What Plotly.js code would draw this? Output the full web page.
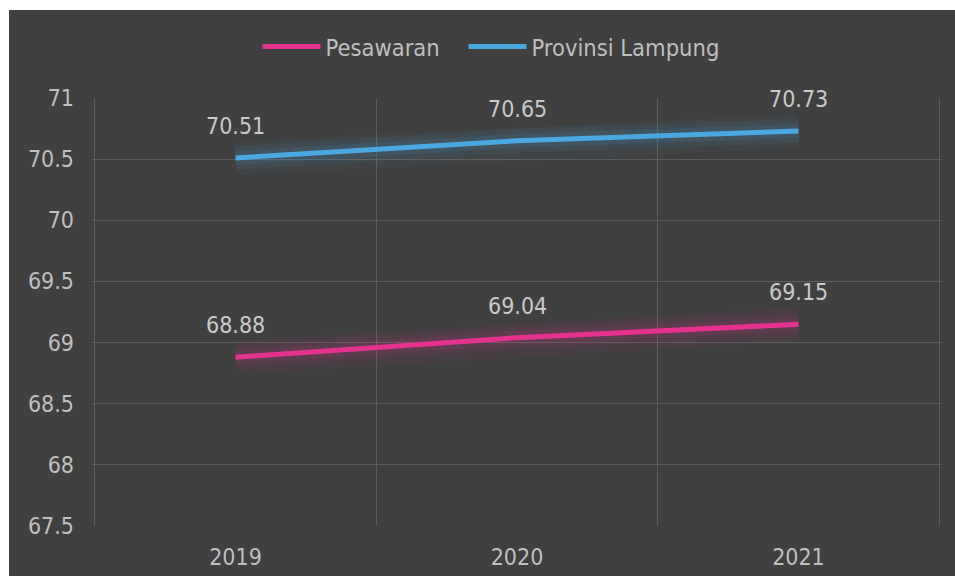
<!DOCTYPE html>
<html>
<head>
<meta charset="utf-8">
<script src="https://cdn.plot.ly/plotly-3.0.1.min.js"></script>
<style>
  html, body { margin: 0; padding: 0; background: #ffffff; }
  #chart { position: absolute; left: 9px; top: 10px; width: 946px; height: 566px; }
</style>
</head>
<body>
<div id="chart"></div>
<script>
const years = ['2019', '2020', '2021'];
const pesawaran = [68.88, 69.04, 69.15];
const lampung = [70.51, 70.65, 70.73];
const seriesNames = ['Pesawaran', 'Provinsi Lampung'];
const yTicks = [67.5, 68, 68.5, 69, 69.5, 70, 70.5, 71];

const idx = years.map(function (_, i) { return i; });
const FONT = '"DejaVu Sans Condensed", "DejaVu Sans", sans-serif';
const PINK = '#e5318f';
const BLUE = '#4aa8e0';

function glow(y, rgb, w, a) {
  return { x: idx, y: y, type: 'scatter', mode: 'lines', showlegend: false, hoverinfo: 'skip',
    line: { color: 'rgba(' + rgb + ',' + a + ')', width: w } };
}

const traces = [
  glow(pesawaran, '229,49,143', 34, 0.045),
  glow(pesawaran, '229,49,143', 24, 0.065),
  glow(pesawaran, '229,49,143', 14, 0.1),
  glow(lampung, '74,168,224', 34, 0.045),
  glow(lampung, '74,168,224', 24, 0.065),
  glow(lampung, '74,168,224', 14, 0.1),
  { x: idx, y: pesawaran, name: seriesNames[0], type: 'scatter', mode: 'lines', legend: 'legend',
    line: { color: PINK, width: 5 } },
  { x: idx, y: lampung, name: seriesNames[1], type: 'scatter', mode: 'lines', legend: 'legend2',
    line: { color: BLUE, width: 5 } }
];

const annotations = [];
[pesawaran, lampung].forEach(function (s) {
  s.forEach(function (v, i) {
    annotations.push({ x: idx[i], y: v, xref: 'x', yref: 'y', text: v.toFixed(2),
      showarrow: false, yshift: 32, font: { family: FONT, size: 23, color: '#c9c9c9' } });
  });
});

// plot area spans page x 92..942
function legendStyle(pageX) {
  return { orientation: 'h', x: (pageX - 92) / 850, xanchor: 'left', y: 1.12, yanchor: 'middle', itemwidth: 58,
    font: { family: FONT, size: 23.5, color: '#bfbfbf' }, bgcolor: 'rgba(0,0,0,0)' };
}

const layout = {
  width: 946, height: 566,
  paper_bgcolor: '#404040', plot_bgcolor: '#404040',
  margin: { l: 83, r: 13, t: 88, b: 50 },
  font: { family: FONT, size: 23, color: '#bfbfbf' },
  showlegend: true,
  legend: legendStyle(257.5),
  legend2: legendStyle(463.5),
  xaxis: { type: 'linear', range: [-0.51, 2.51], tickmode: 'array', tickvals: idx, ticktext: years,
    showgrid: false, showline: false, zeroline: false, ticks: '', ticklabelstandoff: 15,
    minor: { tickmode: 'linear', tick0: 0.5, dtick: 1, showgrid: true, gridcolor: '#5c5c5c', gridwidth: 1.2, ticks: '' },
    tickfont: { family: FONT, size: 23, color: '#bfbfbf' } },
  yaxis: { range: [67.5, 71], tickmode: 'array', tickvals: yTicks, ticktext: yTicks.map(String), showgrid: true,
    gridcolor: '#5c5c5c', gridwidth: 1.2, zeroline: false, showline: false, ticks: '',
    ticklabelstandoff: 17, tickfont: { family: FONT, size: 23, color: '#bfbfbf' } },
  annotations: annotations
};

Plotly.newPlot('chart', traces, layout, { displayModeBar: false, staticPlot: true });
</script>
</body>
</html>
